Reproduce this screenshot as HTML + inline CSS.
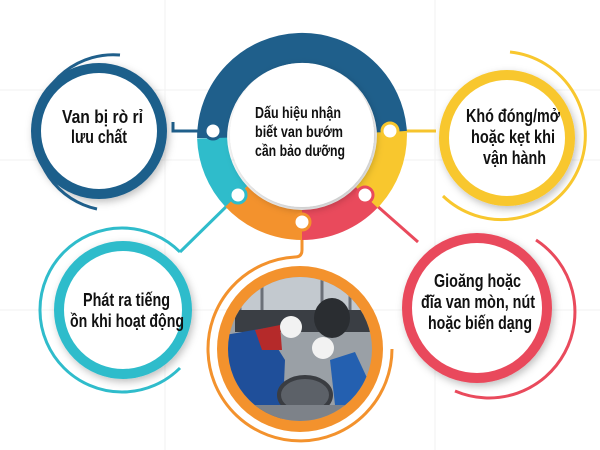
<!DOCTYPE html>
<html><head><meta charset="utf-8"><style>
html,body{margin:0;padding:0;background:#fff;}
svg{display:block;}
text{font-family:"Liberation Sans",sans-serif;font-weight:bold;fill:#111;}
</style></head><body>
<svg width="600" height="450" viewBox="0 0 600 450" xmlns="http://www.w3.org/2000/svg">
<defs>
<filter id="sh" x="-30%" y="-30%" width="160%" height="160%"><feDropShadow dx="2" dy="3" stdDeviation="4" flood-color="#000" flood-opacity="0.25"/></filter>
<clipPath id="pc"><circle cx="300" cy="349" r="72"/></clipPath>
</defs>
<g stroke="#f2f2f2" stroke-width="1">
<line x1="0" y1="90" x2="600" y2="90"/><line x1="0" y1="160" x2="600" y2="160"/><line x1="0" y1="310" x2="600" y2="310"/>
<line x1="165" y1="0" x2="165" y2="450"/><line x1="435" y1="0" x2="435" y2="450"/>
</g>

<g fill="none" stroke-width="3">
<polyline points="213,131 173,131 173,122" stroke="#1f5f8b"/>
<line x1="390" y1="131" x2="436" y2="131" stroke="#f6c42d"/>
<line x1="236" y1="197" x2="180" y2="252" stroke="#2fbccb"/>
<line x1="367" y1="197" x2="418" y2="242" stroke="#e94a5c"/>
<path d="M302,222 L302,250 Q302,257 295,257 A92 92 0 1 0 392,349" stroke="#f3922d"/>
</g>

<g fill="none" stroke-width="30">
<path d="M212.1,138.1 A90 90 0 0 1 391.9,131.9" stroke="#1f5f8b"/>
<path d="M391.9,131.9 A90 90 0 0 1 366.7,197.5" stroke="#f8c72e"/>
<path d="M366.7,197.5 A90 90 0 0 1 302,225" stroke="#e94a5c"/>
<path d="M302,225 A90 90 0 0 1 236.2,196.4" stroke="#f3922d"/>
<path d="M236.2,196.4 A90 90 0 0 1 212.1,138.1" stroke="#2fbccb"/>
</g>
<circle cx="302" cy="135" r="72" fill="#fff" filter="url(#sh)"/>
<g fill="#fff" stroke-width="3">
<circle cx="213" cy="131" r="8" stroke="#1f5f8b"/>
<circle cx="390" cy="131" r="8" stroke="#f8c72e"/>
<circle cx="365" cy="195" r="8" stroke="#e94a5c"/>
<circle cx="302" cy="222" r="8" stroke="#f3922d"/>
<circle cx="238" cy="195" r="8" stroke="#2fbccb"/>
</g>
<g font-size="16">
<text x="255" y="118" textLength="86" lengthAdjust="spacingAndGlyphs">Dấu hiệu nhận</text>
<text x="255" y="137" textLength="88" lengthAdjust="spacingAndGlyphs">biết van bướm</text>
<text x="255" y="156" textLength="90" lengthAdjust="spacingAndGlyphs">cần bảo dưỡng</text>
</g>

<circle cx="99" cy="131" r="63" fill="#fff" stroke="#1f5f8b" stroke-width="10" filter="url(#sh)"/>
<path d="M120,55 A78 78 0 0 0 97,209" fill="none" stroke="#1f5f8b" stroke-width="3"/>
<g font-size="18">
<text x="62" y="123" textLength="81" lengthAdjust="spacingAndGlyphs">Van bị rò rỉ</text>
<text x="71" y="143" textLength="56" lengthAdjust="spacingAndGlyphs">lưu chất</text>
</g>

<circle cx="507" cy="138" r="63" fill="#fff" stroke="#f8c72e" stroke-width="10" filter="url(#sh)"/>
<path d="M510,52 A84 84 0 1 1 443,196" fill="none" stroke="#f8c72e" stroke-width="3"/>
<g font-size="18">
<text x="466" y="122" textLength="94" lengthAdjust="spacingAndGlyphs">Khó đóng/mở</text>
<text x="471" y="143" textLength="84" lengthAdjust="spacingAndGlyphs">hoặc kẹt khi</text>
<text x="483" y="164" textLength="63" lengthAdjust="spacingAndGlyphs">vận hành</text>
</g>

<circle cx="123" cy="310" r="64" fill="#fff" stroke="#2fbccb" stroke-width="10" filter="url(#sh)"/>
<path d="M180,252 A82 82 0 1 0 180,368" fill="none" stroke="#2fbccb" stroke-width="3"/>
<g font-size="18">
<text x="83" y="306" textLength="87" lengthAdjust="spacingAndGlyphs">Phát ra tiếng</text>
<text x="70" y="327" textLength="114" lengthAdjust="spacingAndGlyphs">ồn khi hoạt động</text>
</g>

<circle cx="477" cy="308" r="70" fill="#fff" stroke="#e94a5c" stroke-width="10" filter="url(#sh)"/>
<path d="M536,240 A86 86 0 0 1 455,391" fill="none" stroke="#e94a5c" stroke-width="3"/>
<g font-size="18">
<text x="434" y="287" textLength="87" lengthAdjust="spacingAndGlyphs">Gioăng hoặc</text>
<text x="421" y="308" textLength="114" lengthAdjust="spacingAndGlyphs">đĩa van mòn, nút</text>
<text x="428" y="329" textLength="104" lengthAdjust="spacingAndGlyphs">hoặc biến dạng</text>
</g>

<circle cx="300" cy="349" r="83" fill="#f3922d"/>
<g clip-path="url(#pc)">
<rect x="220" y="270" width="170" height="170" fill="#9aa0a6"/>
<rect x="220" y="270" width="170" height="45" fill="#c3c9cf"/>
<g stroke="#6b7078" stroke-width="3"><line x1="240" y1="270" x2="240" y2="330"/><line x1="262" y1="270" x2="262" y2="320"/><line x1="322" y1="270" x2="322" y2="310"/><line x1="350" y1="270" x2="350" y2="330"/><line x1="362" y1="270" x2="362" y2="330"/></g>
<rect x="235" y="310" width="140" height="22" fill="#3a3e44"/>
<ellipse cx="332" cy="318" rx="18" ry="20" fill="#2a2d31"/>
<path d="M225,335 L265,328 L285,360 L282,430 L225,430Z" fill="#1f4f9a"/>
<path d="M255,330 L280,325 L282,350 L262,350Z" fill="#b52a2a"/>
<circle cx="291" cy="327" r="11" fill="#f2f2f2"/>
<path d="M330,360 L355,352 L368,380 L368,410 L335,405Z" fill="#2460b0"/>
<circle cx="323" cy="348" r="11" fill="#f2f2f2"/>
<ellipse cx="305" cy="395" rx="26" ry="18" fill="#5c6168" stroke="#3a3d42" stroke-width="4"/>
<rect x="250" y="405" width="100" height="30" fill="#7d8289"/>
</g>
</svg>
</body></html>
